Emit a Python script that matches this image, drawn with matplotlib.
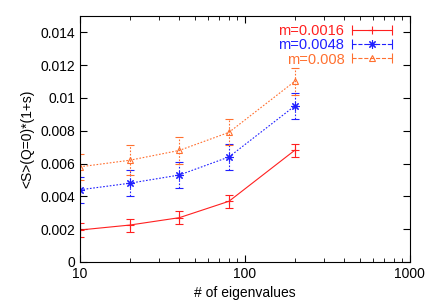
import numpy as np
import matplotlib.pyplot as plt
from matplotlib.lines import Line2D
from matplotlib.legend_handler import HandlerBase

plt.rcParams['font.family'] = ['Liberation Sans', 'DejaVu Sans']

# number of eigenvalues
nev = np.array([10, 20, 40, 80, 200])

# <S>(Q=0)*(1+s) for each mass
s_m0016 = np.array([0.00195, 0.00225, 0.0027, 0.0037, 0.0068])
e_m0016 = np.array([0.0004, 0.0004, 0.0004, 0.0004, 0.0004])
s_m0048 = np.array([0.0044, 0.0048, 0.0053, 0.0064, 0.0095])
e_m0048 = np.array([0.0008, 0.0008, 0.0008, 0.0008, 0.0008])
s_m008 = np.array([0.0058, 0.0062, 0.0068, 0.0079, 0.0110])
e_m008 = np.array([0.0008, 0.0009, 0.0008, 0.0008, 0.0008])

labels = ['m=0.0016', 'm=0.0048', 'm=0.008']
colors = ['#ff2020', '#2020ff', '#ff7030']
markers = ['+', (8, 2, 0), '^']
sizes = [6, 6, 5]
styles = ['-', (0, (1.5, 1.5)), (0, (1.5, 1.5))]


class GnuplotErrHandler(HandlerBase):
    # horizontal line with end caps and a marker in the middle
    def create_artists(self, legend, orig, xd, yd, w, h, fs, trans):
        y = h / 2 - yd
        x0, x1 = -xd, -xd + w
        ln = Line2D([x0, x1], [y, y], color=orig.get_color(),
                    ls=orig.get_linestyle(), lw=0.8, transform=trans)
        caps = Line2D([x0, x1], [y, y], color=orig.get_color(), ls='none',
                      marker='|', ms=7, mew=0.8, transform=trans)
        mk = Line2D([(x0 + x1) / 2], [y], color=orig.get_color(), ls='none',
                    marker=orig.get_marker(), ms=orig.get_markersize(),
                    mfc='none', mew=0.8, transform=trans)
        return [ln, caps, mk]


fig = plt.figure(figsize=(4.36, 3.05), dpi=100)
ax = fig.add_axes([0.1835, 0.141, 0.7565, 0.807])

handles = []
for y, e, c, m, ms, s in zip([s_m0016, s_m0048, s_m008],
                             [e_m0016, e_m0048, e_m008],
                             colors, markers, sizes, styles):
    eb = ax.errorbar(nev, y, yerr=e, color=c, marker=m, ms=ms,
                     mfc='none', mew=0.8, lw=0.8, ls=s, capsize=3,
                     elinewidth=0.8)
    eb[2][0].set_linestyle(s)
    handles.append(Line2D([], [], color=c, marker=m, ls=s, ms=ms))

ax.set_xscale('log')
ax.set_xlim(10, 1000)
ax.set_ylim(0, 0.015)
ax.set_yticks(np.arange(0, 0.0141, 0.002))
ax.set_yticklabels(['0', '0.002', '0.004', '0.006', '0.008', '0.01', '0.012', '0.014'])
ax.set_xticks([10, 100, 1000])
ax.set_xticklabels(['10', '100', '1000'])
ax.tick_params(which='both', direction='in', top=True, right=True, labelsize=10)
ax.tick_params(which='major', length=5)
ax.tick_params(which='minor', length=3)

ax.set_xlabel('# of eigenvalues', fontsize=10)
ax.set_ylabel('<S>(Q=0)*(1+s)', fontsize=10)

leg = ax.legend(handles, labels, loc='upper right', bbox_to_anchor=(0.965, 0.992),
                frameon=False, markerfirst=False, fontsize=10.5,
                handlelength=2.8, borderaxespad=0.0, labelspacing=0.03,
                handletextpad=0.5,
                handler_map={Line2D: GnuplotErrHandler()})
for t, c in zip(leg.get_texts(), colors):
    t.set_color(c)

fig.savefig('out.png', dpi=100)
